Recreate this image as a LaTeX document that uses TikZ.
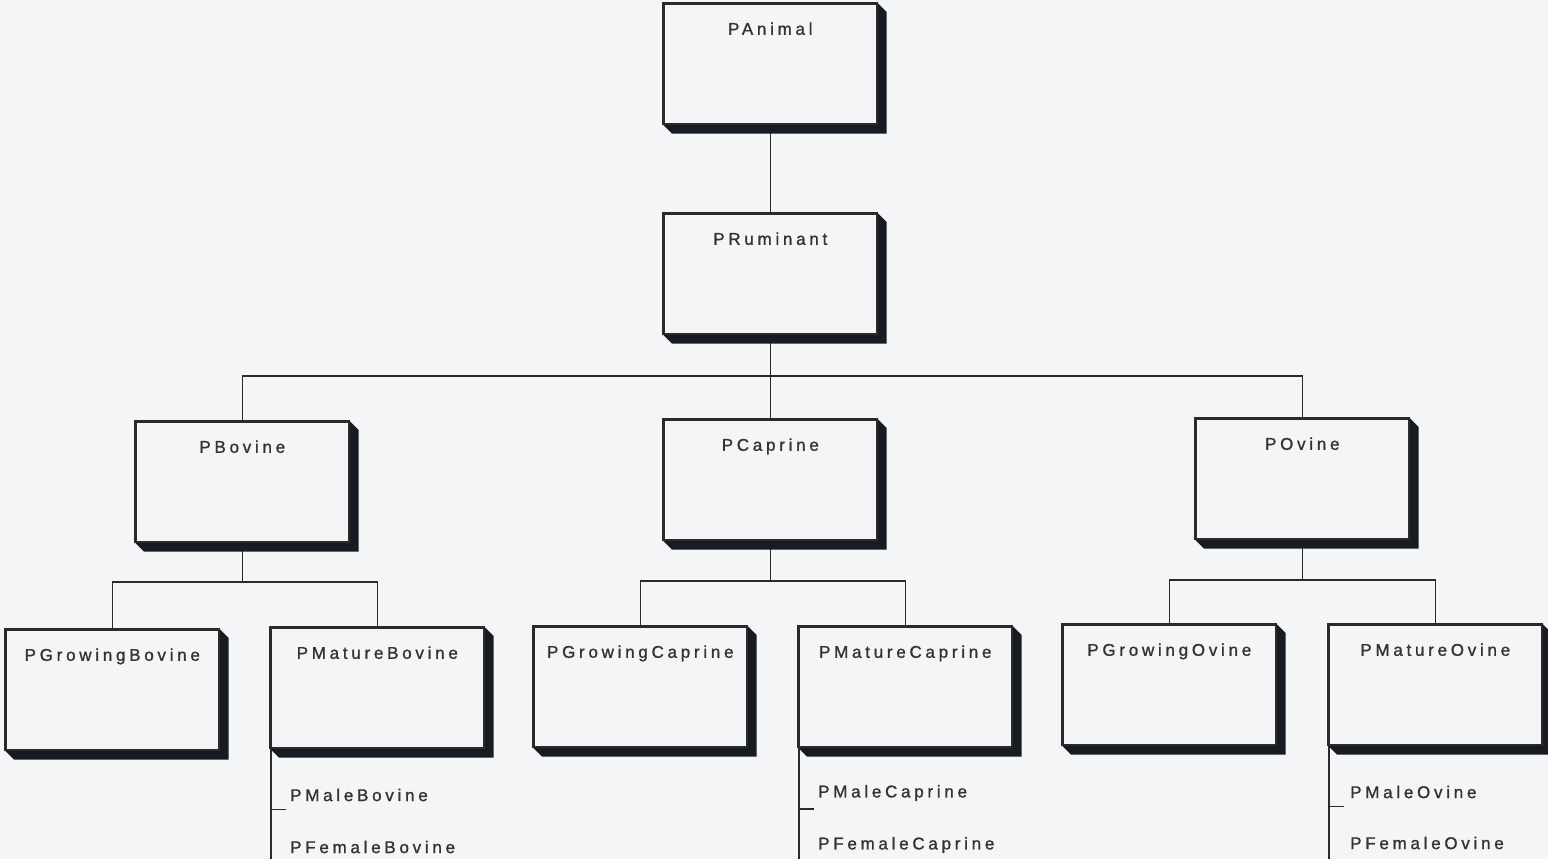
\documentclass[tikz,border=0pt]{standalone}
\usepackage{fontspec}
\newfontfamily\lblfont[LetterSpace=22,FakeBold=1.2]{Liberation Sans}
\definecolor{bgc}{HTML}{F4F5F7}
\definecolor{shc}{HTML}{181B22}
\definecolor{lnc}{HTML}{2A2A2A}
\definecolor{txc}{HTML}{333333}
\tikzset{
  cls/.style={draw=lnc, line width=1.6pt, fill=bgc, anchor=north west,
    minimum width=213pt, inner xsep=0pt, inner ysep=0pt,
    text height=31pt, text depth=89pt, text=txc,
    font=\lblfont\fontsize{17pt}{19pt}\selectfont},
  sub/.style={anchor=west, inner sep=0pt, text=txc,
    font=\lblfont\fontsize{17pt}{19pt}\selectfont},
  conn/.style={draw=lnc, line width=1.3pt}
}
\begin{document}
\begin{tikzpicture}[x=1pt,y=-1pt]
\useasboundingbox[fill=bgc] (0,0) rectangle (1548,859);
% nodes
\node[cls] (A)  at (663,3)    {PAnimal};
\node[cls] (R)  at (663,213)  {PRuminant};
\node[cls] (B)  at (135,421)  {PBovine};
\node[cls] (C)  at (663,419)  {PCaprine};
\node[cls] (O)  at (1195,418) {POvine};
\node[cls] (GB) at (5,629)    {PGrowingBovine};
\node[cls] (MB) at (270,627)  {PMatureBovine};
\node[cls] (GC) at (533,626)  {PGrowingCaprine};
\node[cls] (MC) at (798,626)  {PMatureCaprine};
\node[cls] (GO) at (1062,624) {PGrowingOvine};
\node[cls] (MO) at (1328,624) {PMatureOvine};
% sub items
\node[sub] (MB1) at (290,795)  {PMaleBovine};
\node[sub] (MB2) at (290,847)  {PFemaleBovine};
\node[sub] (MC1) at (818,793)  {PMaleCaprine};
\node[sub] (MC2) at (818,845)  {PFemaleCaprine};
\node[sub] (MO1) at (1350,792) {PMaleOvine};
\node[sub] (MO2) at (1350,843) {PFemaleOvine};
% junction coordinates
\coordinate (rj) at (768,376);
\coordinate (bj) at (241,582);
\coordinate (cj) at (768,581);
\coordinate (oj) at (1301,580);
% connectors
\draw[conn] (A.south) -- (R.north);
\draw[conn] (R.south) -- (C.north);
\draw[conn] (B.north) -- (B.north |- rj) -- (O.north |- rj) -- (O.north);
\draw[conn] (B.south) -- (B.south |- bj);
\draw[conn] (GB.north) -- (GB.north |- bj) -- (MB.north |- bj) -- (MB.north);
\draw[conn] (C.south) -- (C.south |- cj);
\draw[conn] (GC.north) -- (GC.north |- cj) -- (MC.north |- cj) -- (MC.north);
\draw[conn] (O.south) -- (O.south |- oj);
\draw[conn] (GO.north) -- (GO.north |- oj) -- (MO.north |- oj) -- (MO.north);
% sub-item trees
\foreach \m/\a/\b in {MB/MB1/MB2, MC/MC1/MC2, MO/MO1/MO2}{
  \draw[conn] ([xshift=1pt]\m.south west) -- ([xshift=1pt]\m.south west |- \b.south) -- ++(0,10) coordinate (\m-end);
  \draw[conn] ([xshift=1pt]\m.south west |- \a.south) ++(0,8) -- ++(15,0);
  \draw[conn] (\m-end) -- ++(15,0);
}
% 3D shadows
\foreach \n in {A,R,B,C,O,GB,MB,GC,MC,GO,MO}{
  \fill[shc] (\n.south west) -- ++(9,9) -| ([xshift=9pt,yshift=-9pt]\n.north east) -- (\n.north east) -- (\n.south east) -- cycle;
  \draw[lnc, line width=1.6pt] (\n.south west) rectangle (\n.north east);
}
\end{tikzpicture}
\end{document}
